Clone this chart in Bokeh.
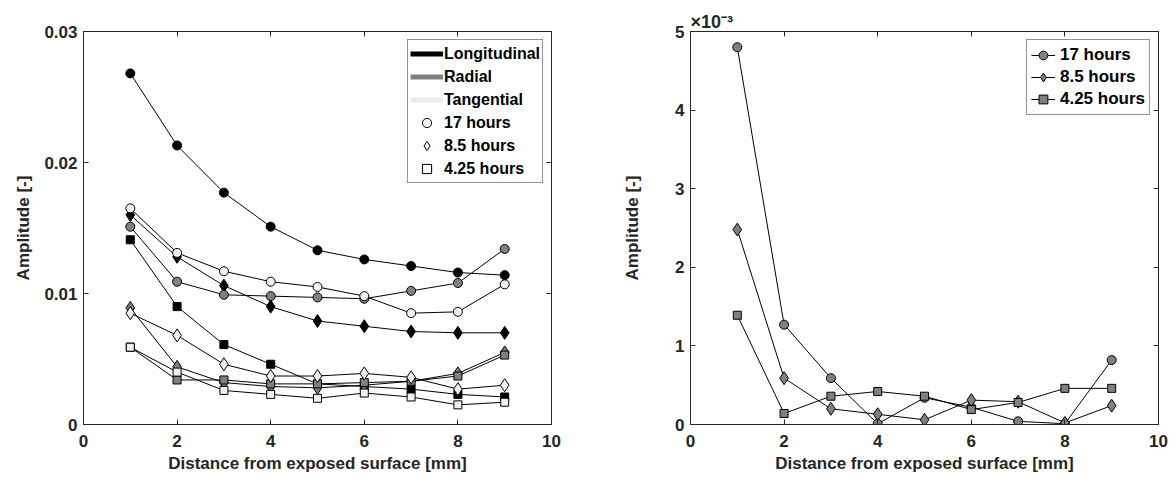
from bokeh.plotting import figure
from bokeh.layouts import row
from bokeh.models import (ColumnDataSource, Legend, LegendItem, LinearAxis, FixedTicker,
                          Title, CustomJSTickFormatter, Range1d)
from bokeh.embed import file_html
from bokeh.resources import INLINE

# ---------------- data ----------------
distance_mm = [1, 2, 3, 4, 5, 6, 7, 8, 9]

# left panel: directions x exposure times
long_17h = [0.0268, 0.0213, 0.0177, 0.0151, 0.0133, 0.0126, 0.0121, 0.0116, 0.0114]
long_8_5h = [0.0160, 0.0128, 0.0106, 0.0090, 0.0079, 0.0075, 0.0071, 0.0070, 0.0070]
long_4_25h = [0.0141, 0.0090, 0.0061, 0.0046, 0.0031, 0.0029, 0.0027, 0.0023, 0.0021]
rad_17h = [0.0151, 0.0109, 0.0099, 0.0098, 0.0097, 0.0096, 0.0102, 0.0108, 0.0134]
rad_8_5h = [0.0089, 0.0044, 0.0032, 0.0029, 0.0028, 0.0030, 0.0033, 0.0039, 0.0055]
rad_4_25h = [0.0059, 0.0034, 0.0034, 0.0031, 0.0031, 0.0032, 0.0033, 0.0037, 0.0053]
tan_17h = [0.0165, 0.0131, 0.0117, 0.0109, 0.0105, 0.0098, 0.0085, 0.0086, 0.0107]
tan_8_5h = [0.0085, 0.0068, 0.0046, 0.0037, 0.0037, 0.0039, 0.0036, 0.0027, 0.0030]
tan_4_25h = [0.0059, 0.0040, 0.0026, 0.0023, 0.0020, 0.0024, 0.0021, 0.0015, 0.0017]

# right panel
right_17h = [0.00480, 0.00127, 0.00059, 0.00001, 0.00034, 0.00022, 0.00004, 0.00001, 0.00082]
right_8_5h = [0.00248, 0.00059, 0.00020, 0.00013, 0.00006, 0.00031, 0.00029, 0.00002, 0.00024]
right_4_25h = [0.00139, 0.00014, 0.00036, 0.00042, 0.00036, 0.00019, 0.00028, 0.00046, 0.00046]

x_ticks = [0, 2, 4, 6, 8, 10]
left_y_ticks = [0, 0.01, 0.02, 0.03]
right_y_ticks = [0, 0.001, 0.002, 0.003, 0.004, 0.005]

direction_labels = ["Longitudinal", "Radial", "Tangential"]
time_labels = ["17 hours", "8.5 hours", "4.25 hours"]
x_label = "Distance from exposed surface [mm]"
y_label = "Amplitude [-]"
exponent_text = "×10⁻³"

# ---------------- style ----------------
FONT = "Liberation Sans"
AX = "#262626"
BLACK = "#000000"
GRAY = "#808080"
LIGHT = "#f0f0f0"
LEGEND_LIGHT = "#ebebeb"
TICK_FS = "17px"
LABEL_FS = "17px"

MARKERS = {"17": ("circle", 9), "8.5": ("diamond", 13), "4.25": ("square", 8)}
NAN = float("nan")


def make_fig(ymax, min_left, min_right):
    p = figure(frame_width=468, frame_height=393,
               min_border_left=min_left, min_border_right=min_right,
               min_border_top=31, min_border_bottom=53,
               x_range=Range1d(0, 10), y_range=Range1d(0, ymax),
               output_backend="svg", toolbar_location=None,
               background_fill_color="white", border_fill_color="white")
    p.grid.visible = False
    p.outline_line_color = AX
    p.outline_line_width = 1
    p.outline_line_alpha = 1
    for ax in (p.xaxis[0], p.yaxis[0]):
        ax.axis_line_color = AX
        ax.major_tick_line_color = AX
        ax.major_tick_in = 5
        ax.major_tick_out = 0
        ax.minor_tick_line_color = None
        ax.major_label_text_font = FONT
        ax.major_label_text_font_style = "bold"
        ax.major_label_text_font_size = TICK_FS
        ax.major_label_text_color = AX
        ax.axis_label_text_font = FONT
        ax.axis_label_text_font_style = "bold"
        ax.axis_label_text_font_size = LABEL_FS
        ax.axis_label_text_color = AX
    p.xaxis.ticker = FixedTicker(ticks=x_ticks)
    p.xaxis.axis_label = x_label
    p.xaxis.major_label_standoff = 10
    p.xaxis.axis_label_standoff = 4
    p.yaxis.axis_label = y_label
    p.yaxis.major_label_standoff = 6
    # top and right tick-only axes (box with inner ticks)
    top = LinearAxis(ticker=FixedTicker(ticks=x_ticks))
    right = LinearAxis()
    for ax in (top, right):
        ax.axis_line_color = None
        ax.major_tick_line_color = AX
        ax.major_tick_in = 5
        ax.major_tick_out = 0
        ax.minor_tick_line_color = None
        ax.major_label_text_font_size = "0px"
        ax.major_label_standoff = 0
    p.add_layout(top, "above")
    p.add_layout(right, "right")
    return p, right


def add_series(p, y, fill, marker_key):
    src = ColumnDataSource(dict(x=distance_mm, y=y))
    p.line("x", "y", source=src, line_color=BLACK, line_width=1)
    m, s = MARKERS[marker_key]
    p.scatter("x", "y", source=src, marker=m, size=s, fill_color=fill,
              line_color=BLACK, line_width=1)


# ---------------- left panel ----------------
p1, r1 = make_fig(0.03, 83, 69)
p1.yaxis.ticker = FixedTicker(ticks=left_y_ticks)
r1.ticker = FixedTicker(ticks=left_y_ticks)
p1.yaxis.formatter = CustomJSTickFormatter(code="return tick == 0 ? '0' : tick.toFixed(2);")
p1.yaxis.axis_label_standoff = 8

series_left = [
    (long_17h, BLACK, "17"), (long_8_5h, BLACK, "8.5"), (long_4_25h, BLACK, "4.25"),
    (rad_17h, GRAY, "17"), (rad_8_5h, GRAY, "8.5"), (rad_4_25h, GRAY, "4.25"),
    (tan_17h, LIGHT, "17"), (tan_8_5h, LIGHT, "8.5"), (tan_4_25h, LIGHT, "4.25"),
]
for y, fill, mk in series_left:
    add_series(p1, y, fill, mk)

dummy = ColumnDataSource(dict(x=[NAN], y=[NAN]))
items = []
for lab, col in zip(direction_labels, [BLACK, GRAY, LEGEND_LIGHT]):
    r = p1.line("x", "y", source=dummy, line_color=col, line_width=5)
    items.append(LegendItem(label=lab, renderers=[r]))
for lab, key in zip(time_labels, ["17", "8.5", "4.25"]):
    m, s = MARKERS[key]
    r = p1.scatter("x", "y", source=dummy, marker=m, size=s - 1, fill_color="white",
                   line_color=BLACK, line_width=1)
    items.append(LegendItem(label=lab, renderers=[r]))

leg1 = Legend(items=items, location="top_right")
p1.add_layout(leg1)

# ---------------- right panel ----------------
p2, r2 = make_fig(0.005, 68, 14)
p2.yaxis.ticker = FixedTicker(ticks=right_y_ticks)
r2.ticker = FixedTicker(ticks=right_y_ticks)
p2.yaxis.formatter = CustomJSTickFormatter(code="return (tick * 1000).toFixed(0);")
p2.yaxis.axis_label_standoff = 30

items2 = []
for y, key, lab in zip([right_17h, right_8_5h, right_4_25h], ["17", "8.5", "4.25"], time_labels):
    src = ColumnDataSource(dict(x=distance_mm, y=y))
    ln = p2.line("x", "y", source=src, line_color=BLACK, line_width=1)
    m, s = MARKERS[key]
    sc = p2.scatter("x", "y", source=src, marker=m, size=s, fill_color=GRAY,
                    line_color=BLACK, line_width=1)
    items2.append(LegendItem(label=lab, renderers=[ln, sc]))

leg2 = Legend(items=items2, location="top_right")
p2.add_layout(leg2)

for leg, fs, gw, gh, pad, so in ((leg1, "16px", 33, 23, 2, 1), (leg2, "17px", 24, 22, 4, 5)):
    leg.label_text_font = FONT
    leg.label_text_font_style = "bold"
    leg.label_text_font_size = fs
    leg.label_text_color = BLACK
    leg.glyph_width = gw
    leg.glyph_height = gh
    leg.label_height = gh
    leg.label_standoff = so
    leg.spacing = 0
    leg.padding = pad
    leg.margin = 8
    leg.border_line_color = AX
    leg.border_line_width = 1
    leg.background_fill_color = "white"
    leg.background_fill_alpha = 1

exp_title = Title(text=exponent_text, align="left", text_font=FONT, text_font_style="bold",
                  text_font_size="18px", text_color=AX, standoff=0, offset=0)
p2.add_layout(exp_title, "above")

layout = row(p1, p2)
open("out.html", "w").write(file_html(layout, INLINE))
